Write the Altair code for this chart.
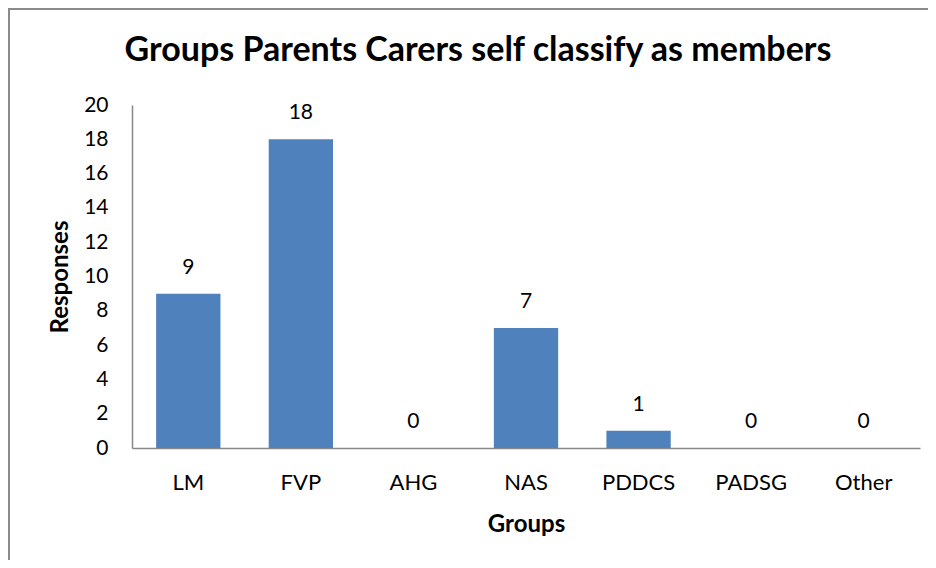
import altair as alt
import pandas as pd

groups = ["LM", "FVP", "AHG", "NAS", "PDDCS", "PADSG", "Other"]
responses = [9, 18, 0, 7, 1, 0, 0]
chart_title = "Groups Parents Carers self classify as members"

df = pd.DataFrame({"Groups": groups, "Responses": responses})

FONT = "Lato"
W, H = 788, 343

x = alt.X("Groups:N", sort=groups,
          scale=alt.Scale(paddingInner=0.4286, paddingOuter=0.2143),
          axis=alt.Axis(title="Groups", labelAngle=0, ticks=False, domainColor="#888888",
                        domainWidth=1.5, labelFont=FONT, labelFontSize=22, labelColor="#000000",
                        labelPadding=34, labelBaseline="middle", labelOverlap=False,
                        titleFont=FONT, titleFontSize=24, titleFontWeight="bold",
                        titleColor="#000000", titleX=W / 2, titleY=76, titleBaseline="middle"))
y = alt.Y("Responses:Q", scale=alt.Scale(domain=[0, 20]),
          axis=alt.Axis(title="Responses", values=list(range(0, 21, 2)), ticks=False, grid=False,
                        domainColor="#888888", domainWidth=1.5, labelFont=FONT, labelFontSize=21,
                        labelColor="#000000", labelPadding=24, labelOverlap=False,
                        labelBaseline="middle", titleFont=FONT, titleFontSize=24,
                        titleFontWeight="bold", titleColor="#000000", titleX=-72, titleY=H / 2,
                        titleBaseline="middle", titleAlign="center"))

base = alt.Chart(df).encode(x=x, y=y)
bars = base.mark_bar(color="#4F81BD")
labels = base.mark_text(font=FONT, fontSize=21, color="#000000", dy=-26).encode(text="Responses:Q")
frame = alt.Chart(df).mark_rect(fillOpacity=0, stroke="#8a8a8a", strokeWidth=2, clip=False).encode(
    x=alt.value(-123), x2=alt.value(W + 300), y=alt.value(-96), y2=alt.value(H + 300))
title = alt.Chart(pd.DataFrame({"t": [chart_title]})).mark_text(
    font=FONT, fontSize=34, fontWeight="bold", color="#000000", align="center",
    baseline="middle").encode(x=alt.value(346), y=alt.value(-54), text="t:N")

chart = alt.layer(frame, bars, labels, title).properties(
    width=W, height=H,
    autosize=alt.AutoSizeParams(type="none"),
    padding={"left": 124, "top": 97, "right": 8, "bottom": 112},
).configure_view(stroke=None)

chart.save("out.html", embed_options={"renderer": "svg", "actions": False})
